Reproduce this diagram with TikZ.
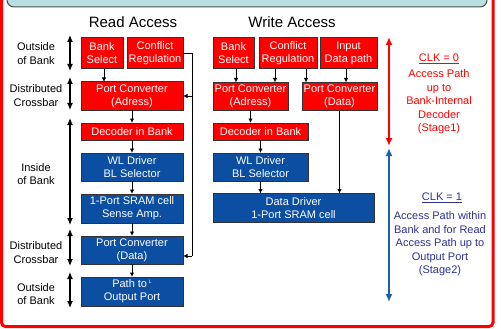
\documentclass[tikz,border=0pt]{standalone}
\usepackage{fontspec}
\setmainfont{Liberation Sans}
\usetikzlibrary{arrows.meta,calc}
\definecolor{bred}{HTML}{FF0000}
\definecolor{bblue}{HTML}{0B4EA2}
\definecolor{bandc}{HTML}{B9DFE3}
\definecolor{navytxt}{HTML}{2E3192}
\definecolor{arrblue}{HTML}{1F5FAA}
\begin{document}
\begin{tikzpicture}[x=1pt,y=-1pt,
  box/.style={draw=black!80, line width=1pt, text=white, font=\fontsize{11}{13}\selectfont, align=center, inner sep=0pt, outer sep=0pt},
  rbox/.style={box, fill=bred},
  bbox/.style={box, fill=bblue},
  lbl/.style={font=\fontsize{11}{13.5}\selectfont, align=center, inner sep=0pt},
  ttl/.style={font=\fontsize{15}{18}\selectfont, inner sep=0pt},
  arr/.style={-{Latex[length=4.5pt,width=4.5pt]}, line width=0.9pt},
  darr/.style={{Latex[length=7pt,width=6pt]}-{Latex[length=7pt,width=6pt]}, line width=1.2pt},
  bigarr/.style={{Latex[length=8pt,width=7pt]}-{Latex[length=8pt,width=7pt]}, line width=2pt}
]
\useasboundingbox (0,0) rectangle (501,329);
% frame and top band
\draw[bred, line width=3pt, rounded corners=4pt] (1.5,-20) rectangle (493,326.5);
\draw[black!70, fill=bandc, line width=1pt, rounded corners=7pt] (7,-20) rectangle (487,7);

% titles
\node[ttl] (tr) at (133,22) {Read Access};
\node[ttl] (tw) at (292,22) {Write Access};

% left labels
\node[lbl] (l1) at (36,53.5) {Outside\\of Bank};
\node[lbl] (l2) at (36,95.5) {Distributed\\Crossbar};
\node[lbl] (l3) at (36,174) {Inside\\of Bank};
\node[lbl] (l4) at (36,252.5) {Distributed\\Crossbar};
\node[lbl] (l5) at (36,294) {Outside\\of Bank};

% left double arrows
\coordinate (a1t) at (70,35);  \coordinate (a1b) at (70,71);
\coordinate (a2t) at (70,77);  \coordinate (a2b) at (70,110);
\coordinate (a3t) at (70,118); \coordinate (a3b) at (70,225);
\coordinate (a4t) at (70,229); \coordinate (a4b) at (70,266);
\coordinate (a5t) at (70,272); \coordinate (a5b) at (70,308);
\draw[darr] (a1t) -- (a1b);
\draw[darr] (a2t) -- (a2b);
\draw[darr] (a3t) -- (a3b);
\draw[darr] (a4t) -- (a4b);
\draw[darr] (a5t) -- (a5b);

% Read column
\node[rbox, minimum width=42, minimum height=31] (bs1) at (102,53.5) {Bank\\Select};
\node[rbox, minimum width=56, minimum height=31] (cr1) at (155,53.5) {Conflict\\Regulation};
\node[rbox, minimum width=102, minimum height=28] (pca1) at (132,96) {Port Converter\\(Adress)};
\node[rbox, minimum width=102, minimum height=17] (dec1) at (132,131.5) {Decoder in Bank};
\node[bbox, minimum width=102, minimum height=28] (wl1) at (132,167) {WL Driver\\BL Selector};
\node[bbox, minimum width=102, minimum height=29] (sram1) at (132,208.5) {1-Port SRAM cell\\Sense Amp.};
\node[bbox, minimum width=102, minimum height=28] (pcd1) at (132,250) {Port Converter\\(Data)};
\node[bbox, minimum width=102, minimum height=29] (path1) at (132,291.5) {Path to\,\raisebox{4pt}{\fontsize{5}{5}\selectfont L}\\Output Port};

\draw[arr] ([xshift=2]bs1.south) -- ([xshift=2]bs1.south |- pca1.north);
\draw[arr] (pca1.south) -- (dec1.north);
\draw[arr] (dec1.south) -- (wl1.north);
\draw[arr] (wl1.south) -- (sram1.north);
\draw[arr] (sram1.south) -- (pcd1.north);
\draw[arr] (pcd1.south) -- (path1.north);
\coordinate (j1) at (192,53.5);
\coordinate (j2) at (192,256);
\draw[line width=0.9pt] (cr1.east) -- (j1) -- (j2);
\draw[arr] (j2) -- (pcd1.east |- j2);
\draw[arr] (j1 |- pca1.east) -- (pca1.east);

% Write column
\node[rbox, minimum width=41, minimum height=31] (bs2) at (233.5,53.5) {Bank\\Select};
\node[rbox, minimum width=58, minimum height=31] (cr2) at (288,53.5) {Conflict\\Regulation};
\node[rbox, minimum width=57, minimum height=31] (idp2) at (348.5,53.5) {Input\\Data path};
\node[rbox, minimum width=75, minimum height=28] (pca2) at (250.5,96.5) {Port Converter\\(Adress)};
\node[rbox, minimum width=75, minimum height=28] (pcd2) at (339.5,96.5) {Port Converter\\(Data)};
\node[rbox, minimum width=95, minimum height=17] (dec2) at (260.5,131.5) {Decoder in Bank};
\node[bbox, minimum width=95, minimum height=28] (wl2) at (260.5,167) {WL Driver\\BL Selector};
\node[bbox, minimum width=161, minimum height=29] (dd2) at (293.5,208) {Data Driver\\1-Port SRAM cell};

\draw[arr] ([xshift=2.5]bs2.south) -- ([xshift=2.5]bs2.south |- pca2.north);
\draw[arr] ([xshift=-13]cr2.south) -- ([xshift=-13]cr2.south |- pca2.north);
\draw[arr] ([xshift=18]cr2.south) -- ([xshift=18]cr2.south |- pcd2.north);
\draw[arr] ([xshift=-2.5]idp2.south) -- ([xshift=-2.5]idp2.south |- pcd2.north);
\draw[arr] (pca2.south) -- (pca2.south |- dec2.north);
\draw[arr] (dec2.south) -- (wl2.north);
\draw[arr] (wl2.south) -- (wl2.south |- dd2.north);
\draw[arr] (pcd2.south) -- (pcd2.south |- dd2.north);

% right side
\coordinate (r1t) at (389,37);  \coordinate (r1b) at (389,146);
\coordinate (r2t) at (389,148); \coordinate (r2b) at (389,302);
\draw[bigarr, bred] (r1t) -- (r1b);
\draw[bigarr, arrblue] (r2t) -- (r2b);

\node[lbl, text=bred] (clk0) at (439,59) {\underline{CLK = 0}};
\node[lbl, text=bred] (st1) at (439,102) {Access Path\\up to\\Bank-Internal\\Decoder\\(Stage1)};
\node[lbl, text=navytxt] (clk1) at (442,198) {\underline{CLK = 1}};
\node[lbl, text=navytxt] (st2) at (440,244) {Access Path within\\Bank and for Read\\Access Path up to\\Output Port\\(Stage2)};
\end{tikzpicture}
\end{document}
